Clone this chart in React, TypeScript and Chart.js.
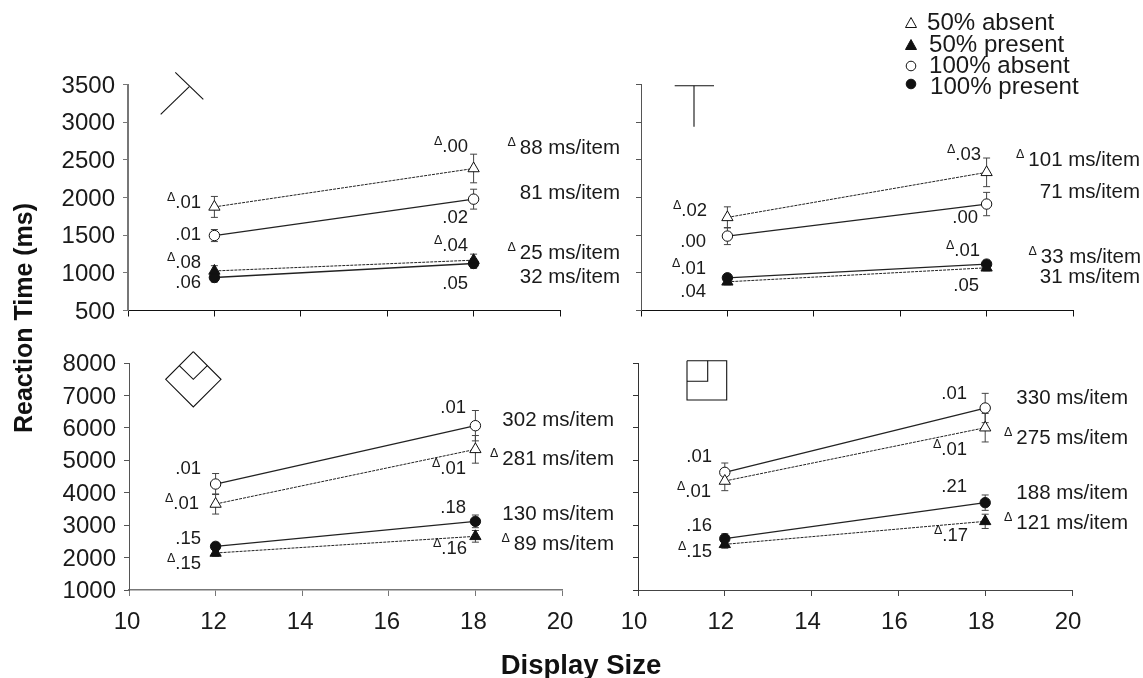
import React, { useEffect, useRef } from "react";
import { Chart, registerables } from "chart.js";

Chart.register(...registerables);

const FONT = '"Liberation Sans", Arial, sans-serif';

const displaySizes = [12, 18];
const xTicks = [10, 12, 14, 16, 18, 20];
const seriesNames = ["50% absent", "50% present", "100% absent", "100% present"];

// Mean RT per panel: [12 items, 18 items]
const tlFiftyAbsent = [1875, 2385];
const tlFiftyPresent = [1025, 1168];
const tlHundredAbsent = [1495, 1978];
const tlHundredPresent = [938, 1124];
const trFiftyAbsent = [1736, 2334];
const trFiftyPresent = [881, 1067];
const trHundredAbsent = [1488, 1913];
const trHundredPresent = [934, 1116];
const blFiftyAbsent = [3652, 5337];
const blFiftyPresent = [2141, 2655];
const blHundredAbsent = [4268, 6067];
const blHundredPresent = [2346, 3117];
const brFiftyAbsent = [4361, 6005];
const brFiftyPresent = [2408, 3117];
const brHundredAbsent = [4628, 6612];
const brHundredPresent = [2583, 3693];

// Half-length of the error bars
const tlFiftyAbsentErr = [139, 190];
const tlFiftyPresentErr = [70, 80];
const tlHundredAbsentErr = [80, 132];
const tlHundredPresentErr = [60, 64];
const trFiftyAbsentErr = [140, 190];
const trFiftyPresentErr = [40, 40];
const trHundredAbsentErr = [113, 155];
const trHundredPresentErr = [40, 50];
const blFiftyAbsentErr = [310, 426];
const blFiftyPresentErr = [100, 180];
const blHundredAbsentErr = [324, 468];
const blHundredPresentErr = [120, 195];
const brFiftyAbsentErr = [298, 440];
const brFiftyPresentErr = [120, 220];
const brHundredAbsentErr = [288, 452];
const brHundredPresentErr = [150, 237];

type Note = { t: string; x: number; y: number; d?: boolean; big?: boolean };

const tlNotes: Note[] = [
  { t: ".01", x: 201, y: 203, d: true },
  { t: ".01", x: 201, y: 235 },
  { t: ".08", x: 201, y: 263, d: true },
  { t: ".06", x: 201, y: 283 },
  { t: ".00", x: 468, y: 147, d: true },
  { t: ".02", x: 468, y: 218 },
  { t: ".04", x: 468, y: 246, d: true },
  { t: ".05", x: 468, y: 284 },
  { t: "88 ms/item", x: 620, y: 148, d: true, big: true },
  { t: "81 ms/item", x: 620, y: 193, big: true },
  { t: "25 ms/item", x: 620, y: 253, d: true, big: true },
  { t: "32 ms/item", x: 620, y: 277, big: true },
];
const trNotes: Note[] = [
  { t: ".02", x: 707, y: 211, d: true },
  { t: ".00", x: 706, y: 242 },
  { t: ".01", x: 706, y: 269, d: true },
  { t: ".04", x: 706, y: 292 },
  { t: ".03", x: 981, y: 155, d: true },
  { t: ".00", x: 978, y: 218 },
  { t: ".01", x: 980, y: 251, d: true },
  { t: ".05", x: 979, y: 286 },
  { t: "101 ms/item", x: 1140, y: 160, d: true, big: true },
  { t: "71 ms/item", x: 1140, y: 192, big: true },
  { t: "33 ms/item", x: 1141, y: 257, d: true, big: true },
  { t: "31 ms/item", x: 1140, y: 277, big: true },
];
const blNotes: Note[] = [
  { t: ".01", x: 201, y: 469 },
  { t: ".01", x: 199, y: 504, d: true },
  { t: ".15", x: 201, y: 539 },
  { t: ".15", x: 201, y: 564, d: true },
  { t: ".01", x: 466, y: 408 },
  { t: ".01", x: 466, y: 469, d: true },
  { t: ".18", x: 466, y: 508 },
  { t: ".16", x: 467, y: 549, d: true },
  { t: "302 ms/item", x: 614, y: 420, big: true },
  { t: "281 ms/item", x: 614, y: 459, d: true, big: true },
  { t: "130 ms/item", x: 614, y: 514, big: true },
  { t: "89 ms/item", x: 614, y: 544, d: true, big: true },
];
const brNotes: Note[] = [
  { t: ".01", x: 712, y: 457 },
  { t: ".01", x: 711, y: 492, d: true },
  { t: ".16", x: 712, y: 526 },
  { t: ".15", x: 712, y: 552, d: true },
  { t: ".01", x: 967, y: 394 },
  { t: ".01", x: 967, y: 450, d: true },
  { t: ".21", x: 967, y: 487 },
  { t: ".17", x: 968, y: 536, d: true },
  { t: "330 ms/item", x: 1128, y: 398, big: true },
  { t: "275 ms/item", x: 1128, y: 438, d: true, big: true },
  { t: "188 ms/item", x: 1128, y: 493, big: true },
  { t: "121 ms/item", x: 1128, y: 523, d: true, big: true },
];

type Pts = [number, number][];
const tlIcon: Pts[] = [
  [[175.3, 72.3], [203.3, 99.3]],
  [[160.7, 114.3], [189.3, 86.7]],
];
const trIcon: Pts[] = [
  [[674.7, 85.7], [714, 85.7]],
  [[694, 85.7], [694, 126.7]],
];
const blIcon: Pts[] = [
  [[193.3, 351.7], [221, 379.3], [193.3, 407], [165.7, 379.3], [193.3, 351.7]],
  [[179.3, 365.7], [193.3, 379.3], [207.3, 365.7]],
];
const brIcon: Pts[] = [
  [[687, 360.7], [726.7, 360.7], [726.7, 400], [687, 400], [687, 360.7]],
  [[687, 381.3], [707.7, 381.3], [707.7, 360.7]],
];

type Panel = {
  box: [number, number, number, number];
  yMin: number; yMax: number; yStep: number;
  values: number[][]; errors: number[][];
  notes: Note[]; icon: Pts[];
  showY: boolean; showX: boolean; xLabelShift: number;
  yColor: string; yWidth: number; xColor: string; xWidth: number;
  withTitles?: boolean; withLegend?: boolean;
};

const panels: Panel[] = [
  {
    box: [128, 84.5, 560, 310.5], yMin: 500, yMax: 3500, yStep: 500,
    values: [tlFiftyAbsent, tlFiftyPresent, tlHundredAbsent, tlHundredPresent],
    errors: [tlFiftyAbsentErr, tlFiftyPresentErr, tlHundredAbsentErr, tlHundredPresentErr],
    notes: tlNotes, icon: tlIcon, showY: true, showX: false, xLabelShift: 0,
    yColor: "#777", yWidth: 2, xColor: "#111", xWidth: 1, withTitles: true,
  },
  {
    box: [641, 84.5, 1073, 310.5], yMin: 500, yMax: 3500, yStep: 500,
    values: [trFiftyAbsent, trFiftyPresent, trHundredAbsent, trHundredPresent],
    errors: [trFiftyAbsentErr, trFiftyPresentErr, trHundredAbsentErr, trHundredPresentErr],
    notes: trNotes, icon: trIcon, showY: false, showX: false, xLabelShift: 0,
    yColor: "#555", yWidth: 1, xColor: "#111", xWidth: 1, withLegend: true,
  },
  {
    box: [129, 363, 562, 590], yMin: 1000, yMax: 8000, yStep: 1000,
    values: [blFiftyAbsent, blFiftyPresent, blHundredAbsent, blHundredPresent],
    errors: [blFiftyAbsentErr, blFiftyPresentErr, blHundredAbsentErr, blHundredPresentErr],
    notes: blNotes, icon: blIcon, showY: true, showX: true, xLabelShift: -2,
    yColor: "#555", yWidth: 1, xColor: "#777", xWidth: 1.5,
  },
  {
    box: [638, 363, 1072, 590], yMin: 1000, yMax: 8000, yStep: 1000,
    values: [brFiftyAbsent, brFiftyPresent, brHundredAbsent, brHundredPresent],
    errors: [brFiftyAbsentErr, brFiftyPresentErr, brHundredAbsentErr, brHundredPresentErr],
    notes: brNotes, icon: brIcon, showY: false, showX: true, xLabelShift: -4,
    yColor: "#333", yWidth: 1, xColor: "#444", xWidth: 1,
  },
];

const W = 1143;
const H = 678;
const Y_AXIS_W = 100;
const X_AXIS_H = 40;

function panelPlugin(p: Panel) {
  return {
    id: "panelExtras",
    beforeDraw(chart: any) {
      // Nudge tick labels to sit where the reference has them
      const nudge = (scale: any, dx: number, dy: number) => {
        if (scale.__nudged) return;
        scale.__nudged = true;
        const orig = scale.drawLabels.bind(scale);
        scale.drawLabels = (area: any) => {
          chart.ctx.save();
          chart.ctx.translate(dx, dy);
          orig(area);
          chart.ctx.restore();
        };
      };
      nudge(chart.scales.x, p.xLabelShift, 0);
      nudge(chart.scales.y, 0, 1.5);
    },
    beforeDatasetsDraw(chart: any) {
      const { ctx, scales } = chart;
      ctx.save();
      ctx.strokeStyle = "#444";
      ctx.lineWidth = 1;
      p.errors.forEach((errs, s) => {
        errs.forEach((e, i) => {
          const v = p.values[s][i];
          const x = scales.x.getPixelForValue(displaySizes[i]);
          const y0 = scales.y.getPixelForValue(v - e);
          const y1 = scales.y.getPixelForValue(v + e);
          ctx.beginPath();
          ctx.moveTo(x, y0); ctx.lineTo(x, y1);
          ctx.moveTo(x - 3.5, y0); ctx.lineTo(x + 3.5, y0);
          ctx.moveTo(x - 3.5, y1); ctx.lineTo(x + 3.5, y1);
          ctx.stroke();
        });
      });
      ctx.restore();
    },
    afterDraw(chart: any) {
      const { ctx } = chart;
      ctx.save();
      // Stimulus icon
      ctx.strokeStyle = "#111";
      ctx.lineWidth = 1.1;
      p.icon.forEach((path) => {
        ctx.beginPath();
        path.forEach(([x, y], i) => (i ? ctx.lineTo(x, y) : ctx.moveTo(x, y)));
        ctx.stroke();
      });
      // Slopes and error rates
      ctx.fillStyle = "#1a1a1a";
      ctx.textBaseline = "middle";
      p.notes.forEach((n) => {
        ctx.font = `${n.big ? 20.5 : 18.5}px ${FONT}`;
        ctx.textAlign = "right";
        ctx.fillText(n.t, n.x, n.y);
        if (n.d) {
          const start = n.x - ctx.measureText(n.t).width;
          ctx.font = `12.5px ${FONT}`;
          ctx.fillText("\u0394", start - (n.big ? 4 : 0), n.y - 5);
        }
      });
      // Legend, built from the dataset labels
      if (p.withLegend) {
        const rows: [number, number, number][] = [
          [927, 23, 23], [929, 45, 45], [929, 66, 66], [930, 87, 84],
        ];
        chart.data.datasets.forEach((ds: any, i: number) => {
          const [tx, ty, my] = rows[i];
          ctx.font = `24.1px ${FONT}`;
          ctx.textAlign = "left";
          ctx.textBaseline = "middle";
          ctx.fillStyle = "#1a1a1a";
          ctx.fillText(ds.label, tx, ty);
          ctx.beginPath();
          if (ds.pointStyle === "triangle") {
            ctx.moveTo(911, my - 5.5);
            ctx.lineTo(916.5, my + 4.5);
            ctx.lineTo(905.5, my + 4.5);
            ctx.closePath();
          } else {
            ctx.arc(911, my, 4.8, 0, Math.PI * 2);
          }
          ctx.fillStyle = ds.pointBackgroundColor;
          ctx.fill();
          ctx.strokeStyle = "#111";
          ctx.lineWidth = 1;
          ctx.stroke();
        });
      }
      // Shared axis titles
      if (p.withTitles) {
        ctx.fillStyle = "#111";
        ctx.textAlign = "center";
        ctx.textBaseline = "middle";
        ctx.font = `bold 27.5px ${FONT}`;
        ctx.fillText("Display Size", 581, 666);
        ctx.translate(25, 318);
        ctx.rotate(-Math.PI / 2);
        ctx.font = `bold 25px ${FONT}`;
        ctx.fillText("Reaction Time (ms)", 0, 0);
      }
      ctx.restore();
    },
  };
}

function buildChart(canvas: HTMLCanvasElement, p: Panel) {
  const [l, t, r, b] = p.box;
  const dash = [3, 1];
  const styles = [
    { pointStyle: "triangle", fill: "#ffffff", dash, radius: 6.5 },
    { pointStyle: "triangle", fill: "#111111", dash, radius: 6.5 },
    { pointStyle: "circle", fill: "#ffffff", dash: [] as number[], radius: 5.2 },
    { pointStyle: "circle", fill: "#111111", dash: [] as number[], radius: 5.2 },
  ];
  return new Chart(canvas, {
    type: "line",
    data: {
      datasets: seriesNames.map((label, s) => ({
        label,
        data: displaySizes.map((x, i) => ({ x, y: p.values[s][i] })),
        borderColor: "#222",
        borderWidth: s < 2 ? 1 : 1.3,
        borderDash: styles[s].dash,
        tension: 0,
        pointStyle: styles[s].pointStyle,
        pointRadius: styles[s].radius,
        pointBackgroundColor: styles[s].fill,
        pointBorderColor: "#111",
        pointBorderWidth: 1,
        clip: false,
      })),
    },
    options: {
      responsive: false,
      animation: false,
      layout: {
        padding: {
          left: l - Y_AXIS_W,
          top: t,
          right: W - r,
          bottom: H - b - X_AXIS_H,
        },
      },
      plugins: { legend: { display: false }, title: { display: false }, tooltip: { enabled: false } },
      scales: {
        x: {
          type: "linear",
          min: xTicks[0],
          max: xTicks[xTicks.length - 1],
          afterBuildTicks: (axis: any) => {
            axis.ticks = xTicks.map((value) => ({ value }));
          },
          afterFit: (axis: any) => { axis.height = X_AXIS_H; },
          border: { color: p.xColor, width: p.xWidth },
          grid: { drawOnChartArea: false, drawTicks: true, tickLength: 6, color: p.xColor },
          ticks: {
            display: p.showX,
            maxRotation: 0,
            autoSkip: false,
            padding: 12,
            color: "#1a1a1a",
            font: { family: FONT, size: 24 },
          },
        },
        y: {
          type: "linear",
          min: p.yMin,
          max: p.yMax,
          afterFit: (axis: any) => { axis.width = Y_AXIS_W; },
          border: { color: p.yColor, width: p.yWidth },
          grid: { drawOnChartArea: false, drawTicks: true, tickLength: 5, color: p.yColor },
          ticks: {
            display: p.showY,
            stepSize: p.yStep,
            autoSkip: false,
            padding: 8,
            color: "#1a1a1a",
            font: { family: FONT, size: 24 },
            callback: (v: any) => String(v),
          },
        },
      },
    },
    plugins: [panelPlugin(p)],
  } as any);
}

function PanelCanvas({ panel }: { panel: Panel }) {
  const ref = useRef<HTMLCanvasElement>(null);
  useEffect(() => {
    const chart = buildChart(ref.current as HTMLCanvasElement, panel);
    return () => chart.destroy();
  }, [panel]);
  return (
    <canvas
      ref={ref}
      width={W}
      height={H}
      style={{ position: "absolute", left: 0, top: 0, width: W, height: H }}
    />
  );
}

export default function App() {
  return (
    <div style={{ position: "absolute", left: 0, top: 0, width: W, height: H, background: "#fff", overflow: "hidden" }}>
      {panels.map((p, i) => (
        <PanelCanvas key={i} panel={p} />
      ))}
    </div>
  );
}
